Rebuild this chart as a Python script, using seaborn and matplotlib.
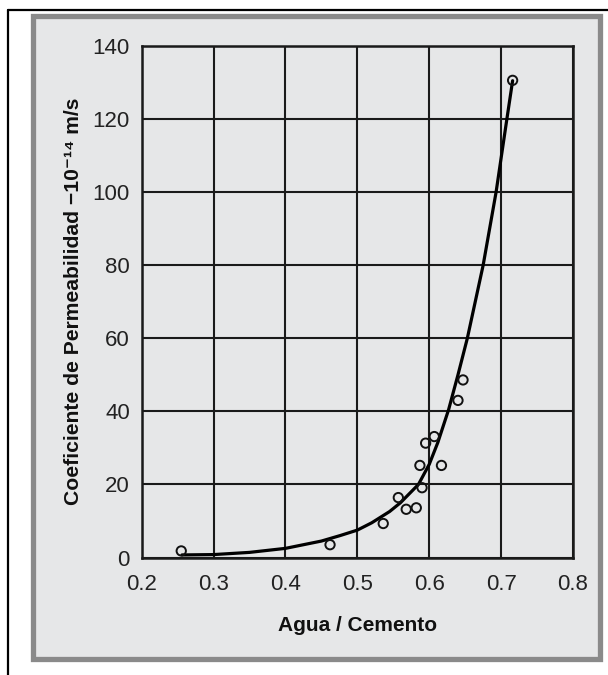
import numpy as np
import pandas as pd
import matplotlib
matplotlib.use("Agg")
import matplotlib.pyplot as plt
import seaborn as sns
from matplotlib.patches import Rectangle
from matplotlib.lines import Line2D

# Measured points (agua/cemento vs permeabilidad)
wc_points = [0.255, 0.462, 0.536, 0.557, 0.568, 0.582, 0.590, 0.587,
             0.617, 0.595, 0.607, 0.640, 0.647, 0.716]
perm_points = [1.8, 3.5, 9.3, 16.4, 13.2, 13.6, 19.1, 25.2,
               25.2, 31.3, 33.1, 43.0, 48.6, 130.6]

# Fitted curve
wc_curve = [0.256, 0.30, 0.35, 0.40, 0.45, 0.476, 0.50, 0.52, 0.545, 0.56,
            0.585, 0.60, 0.612, 0.627, 0.640, 0.653, 0.675, 0.693, 0.708, 0.716]
perm_curve = [0.7, 0.8, 1.4, 2.5, 4.5, 6.0, 7.5, 9.5, 12.6, 15.0,
              20.0, 25.5, 31.5, 40.5, 50.0, 60.0, 80.0, 100.0, 120.0, 130.5]

x_ticks = [0.2, 0.3, 0.4, 0.5, 0.6, 0.7, 0.8]
y_ticks = [0, 20, 40, 60, 80, 100, 120, 140]

sns.set_style("white")
plt.rcParams['font.family'] = ['Liberation Sans', 'DejaVu Sans']

panel_color = '#e6e7e8'

fig = plt.figure(figsize=(6.08, 6.75), dpi=100)
fig.patch.set_facecolor('white')

# gray panel behind the chart
fig.patches.append(Rectangle((33 / 608, 1 - 659 / 675), 567 / 608, 643 / 675,
                             transform=fig.transFigure, facecolor=panel_color,
                             edgecolor='#8a8a8a', linewidth=3.8, zorder=-5))
# outer black frame (left and top edges only visible)
fig.lines.append(Line2D([8 / 608, 8 / 608], [0, 1 - 10 / 675], transform=fig.transFigure,
                        color='black', linewidth=1.6, zorder=-5))
fig.lines.append(Line2D([8 / 608, 1], [1 - 10 / 675, 1 - 10 / 675], transform=fig.transFigure,
                        color='black', linewidth=1.6, zorder=-5))

ax = fig.add_axes([141.7 / 608, 1 - 557.5 / 675, (573 - 141.7) / 608, (557.5 - 46) / 675])
ax.set_zorder(2)
ax.set_facecolor(panel_color)

curve = pd.DataFrame({'wc': wc_curve, 'perm': perm_curve})
pts = pd.DataFrame({'wc': wc_points, 'perm': perm_points})

sns.lineplot(data=curve, x='wc', y='perm', ax=ax, color='black', linewidth=2.3,
             sort=False, zorder=3)
sns.scatterplot(data=pts, x='wc', y='perm', ax=ax, marker='o', s=45,
                facecolor='none', edgecolor='#111111', linewidth=1.4, zorder=4)

ax.set_xlim(0.2, 0.8)
ax.set_ylim(0, 140)
ax.set_xticks(x_ticks)
ax.set_yticks(y_ticks)
ax.set_xticklabels([f'{v:.1f}' for v in x_ticks])
ax.set_yticklabels([str(v) for v in y_ticks])
ax.grid(True, color='#1a1a1a', linewidth=1.5)
ax.set_axisbelow(True)
for s in ax.spines.values():
    s.set_color('#1a1a1a')
    s.set_linewidth(1.8)
ax.tick_params(length=0, labelsize=16, colors='#222222')
ax.tick_params(axis='x', pad=12)
ax.tick_params(axis='y', pad=8.5)

ax.set_xlabel('Agua / Cemento', fontsize=15, fontweight='bold', color='#111111')
ax.set_ylabel('Coeficiente de Permeabilidad −10⁻¹⁴ m/s', fontsize=15.2,
              fontweight='bold', color='#111111')
ax.xaxis.set_label_coords(0.5, -0.114)
ax.yaxis.set_label_coords(-0.136, 0.5)

fig.savefig('out.png', dpi=100)
